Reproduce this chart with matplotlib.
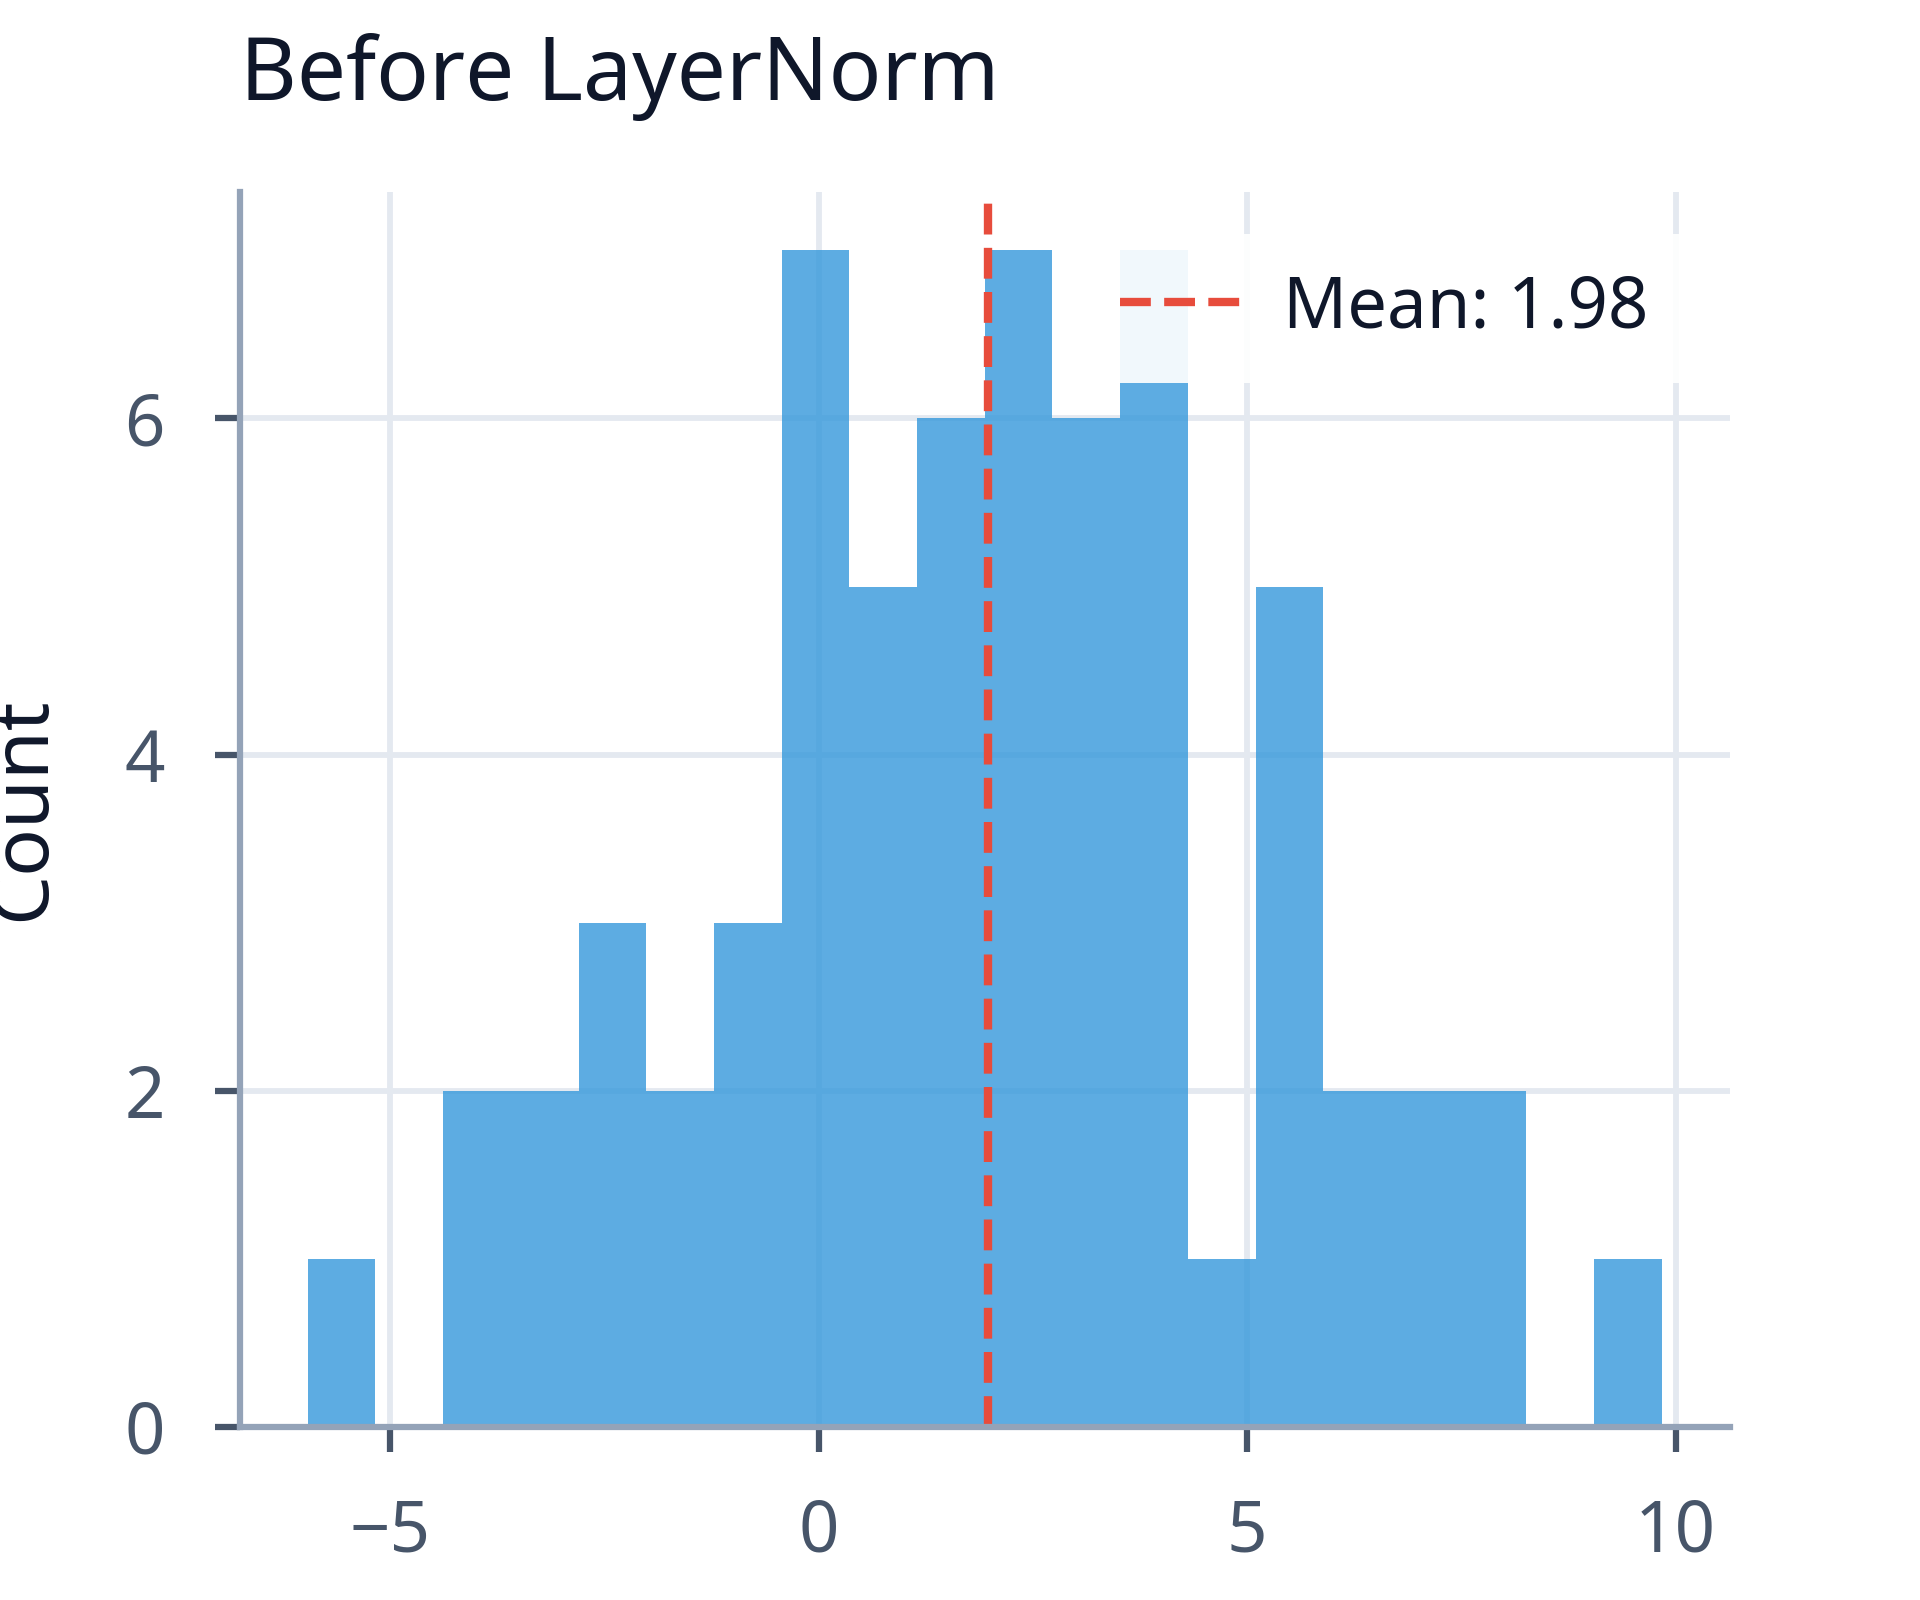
import numpy as np
import matplotlib
matplotlib.use("Agg")
import matplotlib.pyplot as plt

# histogram (20 equal bins between data min and max)
data_min = -5.96
data_max = 9.84
bin_counts = [1, 0, 2, 2, 3, 2, 3, 7, 5, 6, 7, 6, 7, 1, 5, 2, 2, 2, 0, 1]
mean_value = 1.98

title_text = "Before LayerNorm"
ylabel_text = "Count"
x_ticks = [-5, 0, 5, 10]
y_ticks = [0, 2, 4, 6]

plt.rcParams['font.family'] = ['Noto Sans', 'DejaVu Sans']

BAR = '#3498db'
MEAN = '#e74c3c'
SPINE = '#94a3b8'
GRID = '#e4e9f0'
TICK = '#475569'
DARK = '#0f172a'


def main():
    edges = np.linspace(data_min, data_max, len(bin_counts) + 1)
    centers = (edges[:-1] + edges[1:]) / 2

    fig = plt.figure(figsize=(6.4, 16 / 3), dpi=300)
    ax = fig.add_axes([0.125, 0.1084, 0.7758, 0.7718])

    ax.hist(centers, bins=edges, weights=bin_counts, color=BAR, alpha=0.8,
            edgecolor='none')
    ax.axvline(mean_value, color=MEAN, linestyle='--', linewidth=2,
               label=f'Mean: {mean_value:.2f}')

    ax.set_axisbelow(True)
    ax.grid(True, color=GRID, linewidth=1.4)
    for side in ('top', 'right'):
        ax.spines[side].set_visible(False)
    for side in ('left', 'bottom'):
        ax.spines[side].set_color(SPINE)
        ax.spines[side].set_linewidth(1.5)

    ax.set_xticks(x_ticks)
    ax.set_yticks(y_ticks)
    ax.tick_params(axis='both', direction='out', length=6, width=1.5,
                   color=TICK, labelcolor=TICK, labelsize=17)
    ax.tick_params(axis='x', pad=11)
    ax.tick_params(axis='y', pad=12)

    ax.set_title(title_text, loc='left', fontsize=21, color=DARK, pad=22)
    ax.set_ylabel(ylabel_text, fontsize=19, color=DARK)
    ax.yaxis.set_label_coords(-0.119, 0.5)

    leg = ax.legend(loc='upper right', fontsize=17, frameon=True,
                    framealpha=0.92, edgecolor='none', fancybox=False,
                    borderpad=0.55, borderaxespad=0.6,
                    handlelength=1.8, handletextpad=0.5)
    for t in leg.get_texts():
        t.set_color(DARK)

    fig.savefig('out.png', dpi=300)
    plt.close(fig)


if __name__ == "__main__":
    main()
